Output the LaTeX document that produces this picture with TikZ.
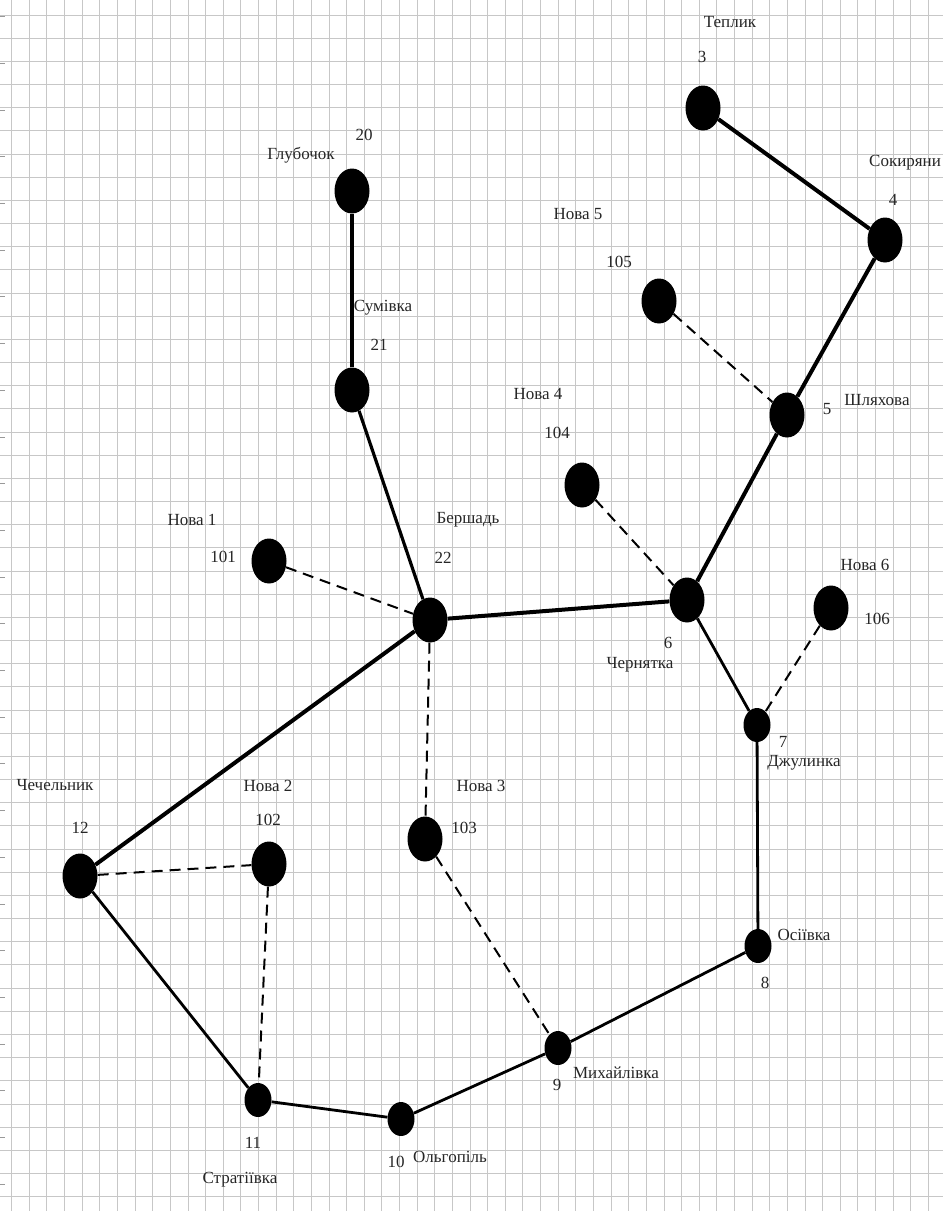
\documentclass[tikz,border=0pt]{standalone}
\usepackage{fontspec}
\setmainfont{Liberation Serif}
\usetikzlibrary{shapes.geometric}
\begin{document}
\begin{tikzpicture}[x=1pt,y=-1pt,
  big/.style={ellipse,fill=black,draw=none,inner sep=0pt,minimum width=35pt,minimum height=45pt},
  small/.style={ellipse,fill=black,draw=none,inner sep=0pt,minimum width=27pt,minimum height=34pt},
  lbl/.style={inner sep=0pt,font=\fontsize{17}{20}\selectfont,text=black!85},
  trunk/.style={line width=4pt},
  road/.style={line width=2.8pt},
  plan/.style={line width=2pt,dash pattern=on 11pt off 7pt},
  gridline/.style={line width=1pt,draw=black!22}]
\fill[white] (0,0) rectangle (943,1211);
\useasboundingbox (0,0) rectangle (943,1211);
% grid
\foreach \k in {0,...,52} \draw[gridline] ({11.7+17.63*\k},0) -- ({11.7+17.63*\k},1211);
\foreach \k in {0,...,51} \draw[gridline] (0,{15+23.17*\k}) -- (943,{15+23.17*\k});
\foreach \k in {0,...,25} \draw[line width=1pt,draw=black!40] (0,{16.7+46.7*\k}) -- (5,{16.7+46.7*\k});
% towns
\node[big] (n3) at (703,108) {};
\node[big] (n4) at (885,240) {};
\node[big] (n20) at (352,191) {};
\node[big] (n21) at (352,390) {};
\node[big] (n105) at (659,301) {};
\node[big] (n5) at (787,415) {};
\node[big] (n104) at (582,485) {};
\node[big] (n22) at (430,620) {};
\node[big] (n101) at (269,561) {};
\node[big] (n6) at (687,600) {};
\node[big] (n106) at (831,608) {};
\node[small] (n7) at (757,725) {};
\node[big] (n12) at (80,876) {};
\node[big] (n102) at (269,864) {};
\node[big] (n103) at (425,839) {};
\node[small] (n8) at (758,946) {};
\node[small] (n9) at (558,1048) {};
\node[small] (n10) at (401,1119) {};
\node[small] (n11) at (258,1100) {};
% labels
\node[lbl] (l3) at (730,22) {Теплик};
\node[lbl] (k3) at (702,57) {3};
\node[lbl,anchor=west] (l4) at (869,163) {Сокиряни};
\node[lbl] (k4) at (893,200) {4};
\node[lbl] (l20) at (301,155) {Глубочок};
\node[lbl] (k20) at (364,135) {20};
\node[lbl] (l21) at (383,308) {Сумівка};
\node[lbl] (k21) at (379,345) {21};
\node[lbl] (l105) at (578,214) {Нова 5};
\node[lbl] (k105) at (619,262) {105};
\node[lbl] (k5) at (827,409) {5};
\node[lbl] (l5) at (877,400) {Шляхова};
\node[lbl] (l104) at (538,394) {Нова 4};
\node[lbl] (k104) at (557,433) {104};
\node[lbl] (l22) at (468,520) {Бершадь};
\node[lbl] (k22) at (443,558) {22};
\node[lbl] (l101) at (192,520) {Нова 1};
\node[lbl] (k101) at (223,557) {101};
\node[lbl] (k6) at (668,643) {6};
\node[lbl] (l6) at (640,665) {Чернятка};
\node[lbl] (l106) at (865,565) {Нова 6};
\node[lbl] (k106) at (877,619) {106};
\node[lbl] (k7) at (783,742) {7};
\node[lbl] (l7) at (804,763) {Джулинка};
\node[lbl] (l8) at (804,935) {Осіївка};
\node[lbl] (k8) at (765,983) {8};
\node[lbl] (k9) at (557,1085) {9};
\node[lbl] (l9) at (616,1073) {Михайлівка};
\node[lbl] (k10) at (396,1162) {10};
\node[lbl] (l10) at (450,1157) {Ольгопіль};
\node[lbl] (k11) at (253,1143) {11};
\node[lbl] (l11) at (240,1180) {Стратіївка};
\node[lbl] (l12) at (55,785) {Чечельник};
\node[lbl] (k12) at (80,828) {12};
\node[lbl] (l102) at (268,786) {Нова 2};
\node[lbl] (k102) at (268,820) {102};
\node[lbl] (l103) at (481,786) {Нова 3};
\node[lbl] (k103) at (464,828) {103};
% existing roads
\draw[trunk] (n3) -- (n4);
\draw[trunk] (n4) -- (n5);
\draw[trunk] (n5) -- (n6);
\draw[trunk] (n6) -- (n22);
\draw[trunk] (n22) -- (n12);
\draw[road,line width=3.2pt] (n22) -- (n21);
\draw[road,line width=3.2pt] (n21) -- (n20);
\draw[road] (n6) -- (n7);
\draw[road] (n7) -- (n8);
\draw[road] (n8) -- (n9);
\draw[road] (n9) -- (n10);
\draw[road] (n10) -- (n11);
\draw[road] (n11) -- (n12);
% planned roads
\draw[plan] (n101) -- (n22);
\draw[plan] (n104) -- (n6);
\draw[plan] (n105) -- (n5);
\draw[plan] (n106) -- (n7);
\draw[plan] (n22) -- (n103);
\draw[plan] (n103) -- (n9);
\draw[plan] (n12) -- (n102);
\draw[plan] (n102) -- (n11);
\end{tikzpicture}
\end{document}
